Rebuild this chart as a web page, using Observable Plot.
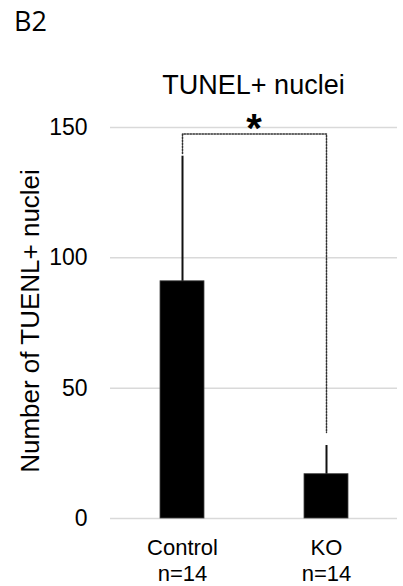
<!DOCTYPE html>
<html>
<head>
<meta charset="utf-8">
<script src="https://cdn.jsdelivr.net/npm/d3@7"></script>
<script src="https://cdn.jsdelivr.net/npm/@observablehq/plot@0.6"></script>
<style>
  html, body { margin: 0; padding: 0; background: #fff; }
  #wrap { position: relative; width: 403px; height: 586px; overflow: hidden; font-family: "Liberation Sans", Arial, sans-serif; color: #000; }
  #panel { position: absolute; left: 14px; top: 5px; font-family: "Open Sans", "Noto Sans", sans-serif; font-size: 27px; line-height: 32px; }
  #title { position: absolute; left: 110px; width: 287px; top: 70px; text-align: center; font-size: 27px; line-height: 30px; }
  #chart { position: absolute; left: 0; top: 100px; }
</style>
</head>
<body>
<div id="wrap">
  <div id="panel">B2</div>
  <div id="title">TUNEL+ nuclei</div>
  <div id="chart"></div>
</div>
<script>
const groups = ["Control", "KO"];
const groupN = ["n=14", "n=14"];
const means = [91, 17];
const errors = [48, 11];
const yTicks = [0, 50, 100, 150];
const yLabel = "Number of TUENL+ nuclei";
const sigLabel = "*";
const bracketTop = 147.5;
const bracketLeftEnd = 140;
const bracketRightEnd = 33;

const data = groups.map((g, i) => ({group: g, n: groupN[i], mean: means[i], err: errors[i]}));
const bracket = [
  {group: groups[0], y: bracketLeftEnd},
  {group: groups[0], y: bracketTop},
  {group: groups[1], y: bracketTop},
  {group: groups[1], y: bracketRightEnd}
];

const chart = Plot.plot({
  width: 403,
  height: 486,
  marginLeft: 110,
  marginRight: 6,
  marginTop: 27,
  marginBottom: 68,
  style: {fontFamily: "Liberation Sans, Arial, sans-serif", fontSize: "23px", color: "#000", background: "#fff", overflow: "visible"},
  x: {domain: groups, paddingInner: 0.6955, paddingOuter: 0.339, label: null},
  y: {domain: [0, 150], label: null},
  marks: [
    Plot.gridY(yTicks, {stroke: "#d9d9d9", strokeOpacity: 1, strokeWidth: 1.5}),
    Plot.axisY(yTicks, {tickSize: 0, tickPadding: 23, fontSize: 23, label: null}),
    Plot.axisX({tickSize: 0, tickPadding: 17, fontSize: 22, lineHeight: 1.22, label: null,
      tickFormat: (d) => d + "\n" + groupN[groups.indexOf(d)]}),
    Plot.barY(data, {x: "group", y: "mean", fill: "#000", stroke: "#444", strokeWidth: 0.8}),
    Plot.ruleX(data, {x: "group", y1: "mean", y2: (d) => d.mean + d.err, stroke: "#111", strokeWidth: 2}),
    Plot.line(bracket, {x: "group", y: "y", stroke: "#333", strokeWidth: 1.5, strokeDasharray: "1.5,1.5"}),
    Plot.text([sigLabel], {frameAnchor: "middle", y: [bracketTop], text: (d) => d, fontSize: 40, fontWeight: "bold", dy: -5, lineAnchor: "middle"}),
    Plot.text([yLabel], {frameAnchor: "left", text: (d) => d, rotate: -90, fontSize: 26, dx: -80, dy: -2, lineAnchor: "middle", textAnchor: "middle"})
  ]
});
document.getElementById("chart").appendChild(chart);
</script>
</body>
</html>
